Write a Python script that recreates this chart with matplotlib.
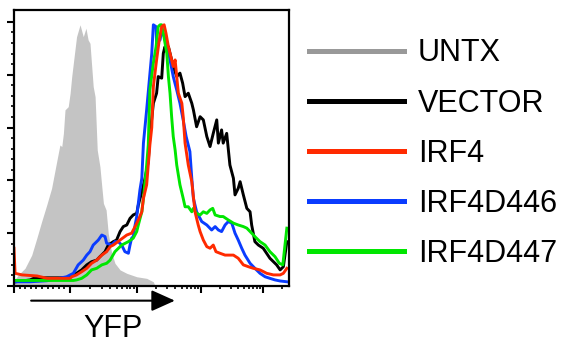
import numpy as np
import matplotlib
matplotlib.use('Agg')
import matplotlib.pyplot as plt
from matplotlib.lines import Line2D

plt.rcParams['font.family'] = ['Liberation Sans', 'DejaVu Sans']

# YFP histograms: x in display channel (0-1024, biexponential axis), y in % of max
untx_x = [0, 16, 41, 66, 85, 103, 122, 140, 159, 171, 178, 184, 190, 202, 209, 215, 227, 233, 246, 258,
          268, 276, 283, 295, 302, 310, 320, 327, 333, 343, 351, 364, 376, 395, 420, 457, 494, 519, 525]
untx_y = [2.0, 4.2, 6.7, 11.7, 18.1, 24.4, 30.7, 37.0, 47.1, 53.4, 52.8, 57.8, 66.7, 67.9, 73.0, 79.3, 89.4, 94.4, 98.9, 94.4,
          97.6, 93.2, 91.9, 75.5, 71.7, 51.5, 45.2, 37.6, 31.3, 28.8, 19.9, 12.4, 8.6, 6.1, 4.8, 3.5, 2.9, 1.6, 0.0]

vec_x = [0, 60, 78, 197, 209, 233, 252, 271, 289, 308, 320, 339, 351, 370, 382, 395, 407, 420, 432, 444,
         457, 463, 476, 488, 500, 506, 519, 531, 537, 550, 556, 562, 569, 575, 581, 593, 606, 618, 628, 637,
         649, 662, 668, 680, 693, 705, 718, 730, 742, 755, 761, 773, 779, 792, 804, 817, 823, 835, 842, 854,
         867, 879, 885, 897, 910, 928, 953, 978, 991, 1003, 1016]
vec_y = [1.5, 2.3, 3.1, 3.1, 3.5, 4.8, 6.1, 8.0, 9.2, 9.8, 11.1, 13.0, 15.5, 16.8, 17.4, 20.6, 22.5, 23.1, 25.6, 26.9,
         27.5, 30.7, 35.7, 40.8, 47.1, 56.6, 69.2, 73.0, 79.3, 78.7, 88.1, 90.6, 89.4, 90.6, 88.1, 83.1, 79.3, 80.6, 76.8, 71.7,
         73.0, 69.2, 66.7, 60.3, 64.1, 62.9, 56.6, 52.8, 57.8, 62.9, 54.1, 59.1, 54.1, 57.8, 45.8, 40.8, 34.5, 37.0, 39.5, 34.5,
         29.4, 28.1, 23.1, 16.8, 15.5, 14.3, 10.5, 8.0, 6.1, 7.3, 16.8]

irf4_x = [0, 4, 30, 86, 123, 209, 215, 233, 252, 271, 289, 308, 327, 345, 358, 370, 395, 420, 438, 451,
          463, 476, 482, 494, 500, 506, 513, 519, 531, 541, 550, 559, 566, 575, 587, 593, 600, 606, 612, 625,
          630, 637, 649, 662, 674, 686, 693, 705, 718, 730, 742, 752, 767, 786, 798, 817, 835, 854, 873, 891,
          916, 941, 966, 991, 1003, 1016]
irf4_y = [14.3, 4.8, 4.2, 3.8, 2.9, 2.9, 3.5, 4.2, 5.4, 6.7, 8.6, 9.8, 11.7, 13.0, 14.9, 15.5, 17.4, 19.3, 20.0, 22.5,
          25.0, 28.1, 33.2, 38.3, 45.8, 53.4, 60.0, 75.5, 85.6, 93.2, 98.2, 98.9, 95.7, 90.6, 85.6, 83.1, 85.6, 79.3, 73.0, 69.2,
          64.1, 54.1, 45.8, 39.5, 28.1, 23.1, 20.6, 17.4, 14.9, 14.3, 15.5, 13.0, 12.4, 11.7, 11.7, 11.7, 10.5, 8.0, 7.3, 6.7,
          6.1, 4.8, 4.2, 4.2, 4.8, 6.7]

d446_x = [0, 60, 123, 196, 221, 239, 258, 271, 283, 295, 314, 327, 339, 345, 364, 376, 388, 401, 413, 426,
          432, 438, 444, 451, 457, 463, 469, 476, 482, 494, 504, 513, 519, 529, 531, 544, 550, 569, 581, 593,
          606, 618, 630, 641, 655, 662, 668, 680, 699, 718, 736, 749, 761, 773, 786, 798, 811, 823, 835, 848,
          860, 879, 897, 916, 935, 953, 972, 991, 1016]
d446_y = [1.6, 1.6, 2.0, 3.5, 4.8, 8.0, 9.8, 11.7, 13.0, 15.5, 17.4, 19.3, 18.7, 16.2, 15.5, 16.8, 16.8, 15.5, 13.0, 12.4,
          15.5, 18.1, 18.7, 23.1, 26.3, 31.3, 36.4, 40.8, 54.1, 66.7, 78.0, 88.1, 98.9, 98.2, 91.9, 93.2, 97.0, 91.9, 85.6, 79.3,
          74.2, 69.2, 62.9, 56.6, 50.9, 40.8, 33.2, 28.1, 24.4, 23.1, 21.2, 22.5, 21.2, 20.6, 23.1, 24.4, 23.8, 20.0, 17.4, 14.3,
          11.7, 8.6, 6.7, 4.8, 3.5, 2.9, 2.3, 1.9, 1.6]

d447_x = [0, 30, 221, 233, 252, 271, 289, 308, 327, 345, 358, 376, 401, 426, 444, 457, 463, 476, 482, 488,
          494, 500, 506, 519, 529, 537, 544, 550, 556, 569, 575, 581, 587, 593, 600, 606, 618, 630, 637, 649,
          662, 668, 680, 693, 705, 718, 730, 740, 749, 767, 779, 798, 817, 835, 854, 867, 885, 897, 916, 935,
          953, 972, 988, 1001, 1009, 1016]
d447_y = [2.1, 2.1, 2.1, 2.3, 2.9, 4.2, 6.1, 6.7, 8.0, 8.6, 9.8, 13.0, 15.5, 16.8, 18.1, 20.6, 23.1, 28.1, 33.2, 39.5,
          45.8, 53.4, 74.2, 84.4, 90.6, 98.2, 98.9, 98.9, 95.7, 88.1, 79.3, 73.0, 64.1, 56.6, 51.5, 45.8, 38.3, 33.2, 30.0, 30.0,
          28.1, 29.4, 27.5, 26.9, 28.1, 27.5, 28.8, 29.4, 26.9, 26.3, 26.3, 25.0, 23.8, 23.1, 22.5, 21.9, 20.0, 18.7, 16.8, 15.5,
          13.0, 11.1, 8.6, 8.0, 15.5, 21.9]

labels = ['UNTX', 'VECTOR', 'IRF4', 'IRF4D446', 'IRF4D447']
colors = ['#999999', '#000000', '#ff2a00', '#0a3cff', '#00e600']

# major ticks at 0, 10^2, 10^3, 10^4, 10^5 in channel units
xmajor = [0, 208.5, 458, 696, 927]

fig = plt.figure(figsize=(5.66, 3.44), dpi=100)
ax = fig.add_axes([0.0247, 0.1686, 0.4859, 0.8023])

ax.fill_between(untx_x, untx_y, color='#c4c4c4', lw=0)
ax.plot(vec_x, vec_y, color=colors[1], lw=2.1)
ax.plot(d446_x, d446_y, color=colors[3], lw=2.1)
ax.plot(d447_x, d447_y, color=colors[4], lw=2.1)
ax.plot(irf4_x, irf4_y, color=colors[2], lw=2.1)

ax.set_xlim(0, 1024)
ax.set_ylim(0, 104.5)

# minor ticks: linear near zero, log inside each decade
xminor = list(np.arange(1, 10) * xmajor[1] / 10)
widths = [249.5, 238, 231, 231]
for start, w in zip(xmajor[1:], widths):
    for k in range(2, 10):
        p = start + np.log10(k) * w
        if p < 1024:
            xminor.append(p)
ax.set_xticks(xmajor)
ax.set_xticks(xminor, minor=True)
ax.set_yticks(np.arange(0, 101, 20))
ax.set_yticks(np.arange(0, 101, 4), minor=True)
ax.tick_params(which='major', direction='out', length=5, width=1.5,
               labelbottom=False, labelleft=False)
ax.tick_params(which='minor', direction='out', length=2.5, width=1.2)
for s in ax.spines.values():
    s.set_linewidth(1.6)

handles = [Line2D([], [], color=c, lw=3.6) for c in colors]
ax.legend(handles, labels, loc='center left', bbox_to_anchor=(0.546, 0.553),
          bbox_transform=fig.transFigure, frameon=False, fontsize=22,
          handlelength=3.1, handletextpad=0.46, labelspacing=0.66,
          borderpad=0, borderaxespad=0)

ax.annotate('', xy=(0.309, 0.126), xytext=(0.055, 0.126),
            xycoords='figure fraction', textcoords='figure fraction',
            arrowprops=dict(arrowstyle='-|>,head_length=1.0,head_width=0.45',
                            mutation_scale=14.4, lw=1.5, color='black',
                            shrinkA=0, shrinkB=0))
fig.text(0.199, 0.021, 'YFP', ha='center', va='baseline', fontsize=22)

plt.savefig('out.png', dpi=100)
